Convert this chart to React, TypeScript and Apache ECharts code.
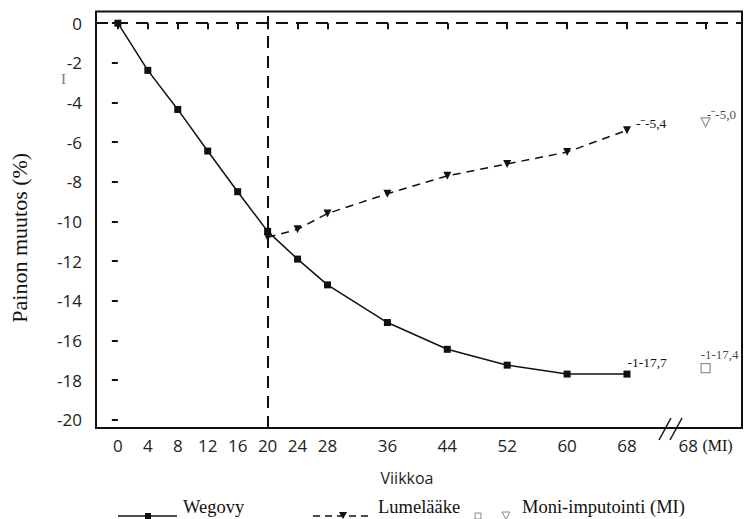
import React, { useEffect, useRef } from "react";
import * as echarts from "echarts";

const weeks = [0, 4, 8, 12, 16, 20, 24, 28, 36, 44, 52, 60, 68];
const wegovy = [0, -2.38, -4.35, -6.45, -8.5, -10.5, -11.9, -13.2, -15.1, -16.45, -17.25, -17.7, -17.7];
const placeboWeeks = [20, 24, 28, 36, 44, 52, 60, 68];
const placebo = [-10.8, -10.4, -9.6, -8.6, -7.7, -7.1, -6.5, -5.4];
const miWeek = 78.5;
const miWegovy = -17.4;
const miPlacebo = -5.0;
const xTicks = [0, 4, 8, 12, 16, 20, 24, 28, 36, 44, 52, 60, 68, miWeek];
const yTicks = [0, -2, -4, -6, -8, -10, -12, -14, -16, -18, -20];
const wegovyEndLabel = "-1-17,7";
const placeboEndLabel = "-ˉ-5,4";
const miWegovyLabel = "-1-17,4";
const miPlaceboLabel = "-ˉ-5,0";
const legendNames = ["Wegovy", "Lumelääke", "Moni-imputointi (MI)"];

const SERIF = "Liberation Serif";
const SANS = "Open Sans";

export default function App() {
  const ref = useRef<HTMLDivElement>(null);
  useEffect(() => {
    if (!ref.current) return;
    const chart = echarts.init(ref.current, null, { renderer: "svg" });
    const labelStyle = { fontFamily: SERIF, fontSize: 13.5, color: "#111" };
    const legendText = { fontFamily: SERIF, fontSize: 18.5, fill: "#111", verticalAlign: "middle" };
    const ly = 516;
    const option: any = {
      animation: false,
      backgroundColor: "#fff",
      grid: {
        left: 92,
        top: 11.5,
        right: 4,
        bottom: 91,
        show: true,
        borderColor: "#111",
        borderWidth: 2,
      },
      xAxis: {
        type: "value",
        min: -2.92,
        max: 83.36,
        name: "Viikkoa",
        nameLocation: "middle",
        nameGap: 42,
        nameTextStyle: { fontFamily: SANS, fontSize: 16, color: "#222", padding: [0, 24, 0, 0] },
        splitLine: { show: false },
        axisLine: { show: false },
        axisTick: { show: true, customValues: xTicks, length: 6, lineStyle: { color: "#111", width: 2 } },
        axisLabel: {
          customValues: xTicks,
          margin: 9,
          fontFamily: SANS,
          fontSize: 17,
          color: "#222",
          formatter: (v: number) => (v === miWeek ? "{a|68} {b|(MI)}" : String(v)),
          rich: {
            a: { fontFamily: SANS, fontSize: 17, color: "#222" },
            b: { fontFamily: SERIF, fontSize: 16, color: "#111" },
          },
        },
      },
      yAxis: {
        type: "value",
        min: -20.42,
        max: 0.59,
        name: "Painon muutos (%)",
        nameLocation: "middle",
        nameGap: 66,
        nameTextStyle: { fontFamily: SERIF, fontSize: 22, color: "#111", padding: [0, 36, 0, 0] },
        splitLine: { show: false },
        axisLine: { show: false },
        axisTick: { show: true, customValues: yTicks, length: 6, lineStyle: { color: "#111", width: 2 } },
        axisLabel: {
          customValues: yTicks,
          margin: 14,
          fontFamily: SANS,
          fontSize: 17,
          color: "#222",
          formatter: (v: number) => String(v),
        },
      },
      series: [
        {
          name: legendNames[0],
          type: "line",
          data: weeks.map((w, i) => [w, wegovy[i]]),
          symbol: "rect",
          symbolSize: 7,
          lineStyle: { color: "#111", width: 1.5 },
          itemStyle: { color: "#111" },
          label: {
            show: true,
            position: "right",
            offset: [-8, -12],
            ...labelStyle,
            formatter: (p: any) => (p.dataIndex === weeks.length - 1 ? wegovyEndLabel : ""),
          },
          z: 3,
          markLine: {
            silent: true,
            symbol: "none",
            label: { show: false },
            lineStyle: { color: "#111", width: 2, type: [12, 8] },
            data: [{ yAxis: 0 }, { xAxis: 20 }],
          },
        },
        {
          name: legendNames[1],
          type: "line",
          data: placeboWeeks.map((w, i) => [w, placebo[i]]),
          symbol: "triangle",
          symbolRotate: 180,
          symbolSize: 8,
          lineStyle: { color: "#111", width: 1.5, type: [8, 6] },
          itemStyle: { color: "#111" },
          label: {
            show: true,
            position: "right",
            offset: [0, -7],
            ...labelStyle,
            formatter: (p: any) => (p.dataIndex === placeboWeeks.length - 1 ? placeboEndLabel : ""),
          },
          z: 3,
        },
        {
          name: "MI-sq",
          type: "scatter",
          data: [[miWeek, miWegovy]],
          symbol: "rect",
          symbolSize: 9,
          itemStyle: { color: "#fff", borderColor: "#777", borderWidth: 1.2 },
          label: {
            show: true,
            position: "right",
            offset: [-15, -14],
            ...labelStyle,
            fontSize: 13,
            formatter: () => miWegovyLabel,
          },
        },
        {
          name: legendNames[2],
          type: "scatter",
          data: [[miWeek, miPlacebo]],
          symbol: "triangle",
          symbolRotate: 180,
          symbolSize: 9,
          itemStyle: { color: "#fff", borderColor: "#777", borderWidth: 1.2 },
          label: {
            show: true,
            position: "right",
            offset: [-9, -8],
            ...labelStyle,
            fontSize: 13,
            formatter: () => miPlaceboLabel,
          },
        },
      ],
      graphic: [
        {
          type: "text",
          x: 61,
          y: 71,
          style: { text: "I", fontFamily: SERIF, fontSize: 15, fill: "#777" },
        },
        {
          type: "line",
          shape: { x1: 659, y1: 440, x2: 671, y2: 418 },
          style: { stroke: "#111", lineWidth: 1.5 },
          z: 10,
        },
        {
          type: "line",
          shape: { x1: 670, y1: 440, x2: 682, y2: 418 },
          style: { stroke: "#111", lineWidth: 1.5 },
          z: 10,
        },
        // legend: Wegovy
        { type: "line", shape: { x1: 118, y1: ly, x2: 177, y2: ly }, style: { stroke: "#111", lineWidth: 1.5 } },
        { type: "rect", shape: { x: 145, y: ly - 3, width: 6, height: 6 }, style: { fill: "#111" } },
        { type: "text", x: 183, y: 507, style: { text: legendNames[0], ...legendText } },
        // legend: Lumelääke
        {
          type: "line",
          shape: { x1: 313, y1: ly, x2: 372, y2: ly },
          style: { stroke: "#111", lineWidth: 1.5, lineDash: [7, 5] },
        },
        {
          type: "polygon",
          shape: { points: [[339, ly - 4], [347, ly - 4], [343, ly + 3]] },
          style: { fill: "#111" },
        },
        { type: "text", x: 378, y: 507, style: { text: legendNames[1], ...legendText } },
        // legend: MI
        {
          type: "rect",
          shape: { x: 475, y: ly - 3, width: 6, height: 6 },
          style: { fill: "#fff", stroke: "#888", lineWidth: 1 },
        },
        {
          type: "polygon",
          shape: { points: [[502, ly - 4], [510, ly - 4], [506, ly + 3]] },
          style: { fill: "#fff", stroke: "#888", lineWidth: 1 },
        },
        { type: "text", x: 522, y: 507, style: { text: legendNames[2], ...legendText } },
      ],
    };
    chart.setOption(option);
    return () => chart.dispose();
  }, []);
  return (
    <div
      ref={ref}
      style={{ position: "fixed", left: 0, top: 0, width: 746, height: 519, background: "#fff" }}
    />
  );
}
